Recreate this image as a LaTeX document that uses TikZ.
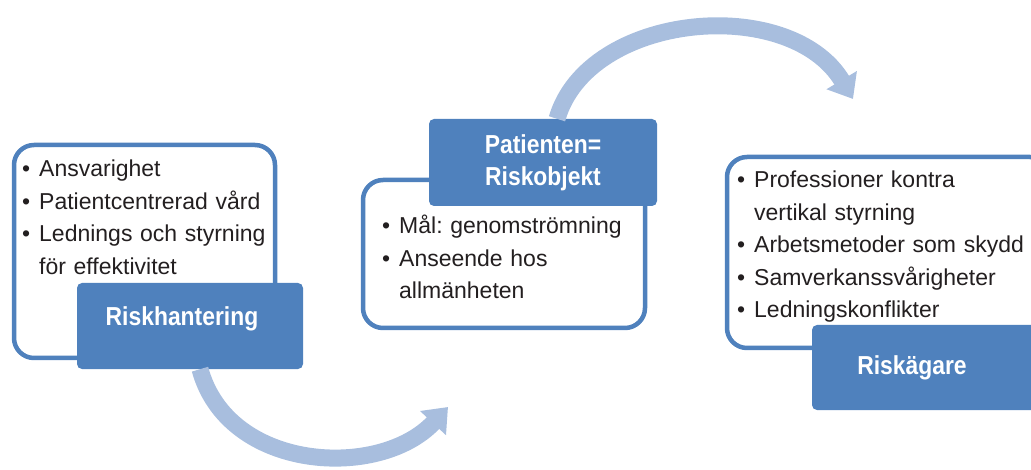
\documentclass[tikz,border=0pt]{standalone}
\usepackage{fontspec}
\setmainfont{Liberation Sans}
\newfontfamily\headfont{Liberation Sans}[FakeStretch=0.88]
\usetikzlibrary{positioning,arrows.meta}
\definecolor{frameblue}{RGB}{79,129,189}
\definecolor{arcblue}{RGB}{168,190,222}
\definecolor{txtgray}{RGB}{35,31,32}
\newcommand{\itm}[1]{\noindent\hangindent=17pt\hangafter=1\makebox[17pt][l]{\textbullet}#1\par}
\frenchspacing

\begin{document}
\begin{tikzpicture}[x=1pt,y=-1pt,
    frame/.style={draw=frameblue,line width=4.5pt,rounded corners=20pt,fill=white,inner sep=0pt},
    tagbox/.style={fill=frameblue,rounded corners=5pt,text=white,align=center,inner sep=0pt,
      font=\headfont\bfseries\fontsize{26}{32}\selectfont},
    listtext/.style={text=txtgray,align=left,anchor=north west,inner sep=0pt,
      font=\fontsize{23}{32.5}\selectfont},
    turn/.style={draw=arcblue,line width=17pt,-{Triangle[width=34pt,length=22pt]}}]
  \useasboundingbox (0,0) rectangle (1031,470);
  \clip (0,0) rectangle (1031,470);
  % frames
  \node[frame,minimum width=261pt,minimum height=213pt] (frameA) at (144.5,251.5) {};
  \node[frame,minimum width=282pt,minimum height=148pt] (frameB) at (504,254) {};
  \node[frame,minimum width=323pt,minimum height=191pt] (frameC) at (888.5,252.5) {};
  % bullet lists
  \node[listtext,text width=250pt] (listA) at (22,160)
    {\itm{Ansvarighet}\itm{Patientcentrerad vård}\itm{Lednings och styrning\newline för effektivitet}};
  \node[listtext,text width=260pt] (listB) at (382,215)
    {\itm{Mål: genomströmning}\itm{Anseende hos\newline allmänheten}};
  \node[listtext,text width=290pt] (listC) at (737,171)
    {\itm{Professioner kontra\newline vertikal styrning}\itm{Arbetsmetoder som skydd}\itm{Samverkanssvårigheter}\itm{Ledningskonflikter}};
  % headings
  \node[tagbox,minimum width=226pt,minimum height=86pt,text height=14pt,text depth=14pt] (riskh) at (190,326) {Riskhantering\hspace*{16pt}};
  \node[tagbox,minimum width=228pt,minimum height=87pt] (patient) at (543,162.5) {Patienten=\\Riskobjekt};
  \node[tagbox,minimum width=238pt,minimum height=85pt] (owner) at (931,367.5) {Riskägare\hspace*{38pt}};
  % arcs
  \coordinate (tipA) at (448,407);
  \coordinate (tipB) at (853,99);
  \draw[turn] ([xshift=10pt]riskh.south) .. controls (228,472) and (380,480) .. (tipA);
  \draw[turn] ([xshift=14pt]patient.north) .. controls (588,12) and (790,-6) .. (tipB);
\end{tikzpicture}
\end{document}
